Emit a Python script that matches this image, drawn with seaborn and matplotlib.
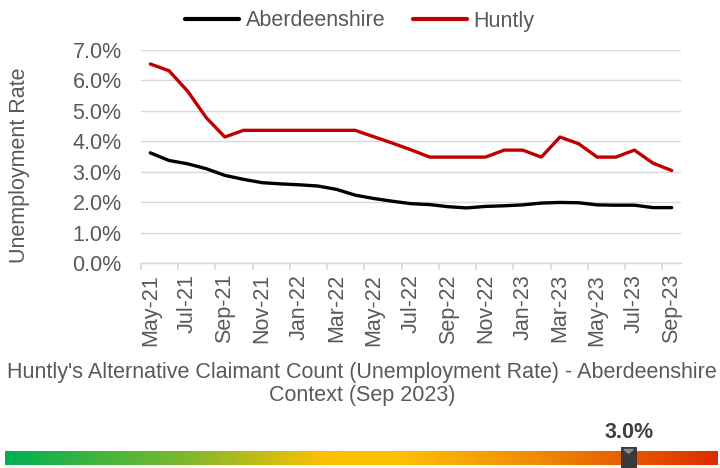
import numpy as np
import pandas as pd
import matplotlib
matplotlib.use("Agg")
import matplotlib.pyplot as plt
import seaborn as sns
from matplotlib.colors import LinearSegmentedColormap

# Data
months = ["May-21", "Jun-21", "Jul-21", "Aug-21", "Sep-21", "Oct-21", "Nov-21", "Dec-21",
          "Jan-22", "Feb-22", "Mar-22", "Apr-22", "May-22", "Jun-22", "Jul-22", "Aug-22",
          "Sep-22", "Oct-22", "Nov-22", "Dec-22", "Jan-23", "Feb-23", "Mar-23", "Apr-23",
          "May-23", "Jun-23", "Jul-23", "Aug-23", "Sep-23"]
aberdeenshire = [3.62, 3.37, 3.26, 3.10, 2.88, 2.75, 2.64, 2.60, 2.57, 2.53, 2.42, 2.23,
                 2.12, 2.03, 1.95, 1.92, 1.85, 1.81, 1.86, 1.88, 1.91, 1.97, 1.99, 1.98,
                 1.91, 1.90, 1.90, 1.82, 1.82]
huntly = [6.54, 6.32, 5.65, 4.78, 4.14, 4.36, 4.36, 4.36, 4.36, 4.36, 4.36, 4.36,
          4.15, 3.94, 3.72, 3.48, 3.48, 3.48, 3.48, 3.71, 3.71, 3.48, 4.14, 3.92,
          3.48, 3.48, 3.71, 3.28, 3.04]
series_names = ["Aberdeenshire", "Huntly"]
series_colors = ["#000000", "#C00000"]
gauge_value = 3.0
gauge_lo, gauge_hi = 0.0, 3.43
title = "Huntly's Alternative Claimant Count (Unemployment Rate) - Aberdeenshire\nContext (Sep 2023)"

df = pd.DataFrame({
    "idx": list(range(len(months))) * 2,
    "rate": aberdeenshire + huntly,
    "area": [series_names[0]] * len(months) + [series_names[1]] * len(months),
})

sns.set_theme(style="white")
plt.rcParams["font.family"] = ["Liberation Sans", "DejaVu Sans"]

W, H = 720, 468
FS = 15.5
GREY = "#595959"
fig = plt.figure(figsize=(7.2, 4.68), dpi=100)
ax = fig.add_axes([141 / W, 1 - 263 / H, 540 / W, 213 / H])

sns.lineplot(data=df, x="idx", y="rate", hue="area", palette=series_colors,
             linewidth=2.4, ax=ax, legend=False)

ax.set_xlim(-0.5, len(months) - 0.5)
ax.set_ylim(0, 7)
ax.set_yticks(np.arange(0, 8, 1))
ax.set_yticklabels([f"{v:.1f}%" for v in np.arange(0, 8, 1)], fontsize=FS, color=GREY)
ax.yaxis.grid(True, color="#D9D9D9", linewidth=1)
ax.set_axisbelow(True)
for s in ["left", "right", "top"]:
    ax.spines[s].set_visible(False)
ax.spines["bottom"].set_color("#D9D9D9")
ax.spines["bottom"].set_linewidth(1)

# tick marks at category boundaries, labels every second month
ax.set_xticks(np.arange(-0.5, len(months), 2))
ax.set_xticklabels([])
ax.tick_params(axis="x", which="major", length=5, color="#D9D9D9", direction="out", bottom=True)
ax.set_xticks(np.arange(0, len(months), 2), minor=True)
ax.set_xticklabels(months[::2], minor=True, rotation=90, fontsize=FS, color=GREY)
ax.tick_params(axis="x", which="minor", length=0, pad=8)
ax.tick_params(axis="y", length=0, pad=14)
ax.set_xlabel("")
ax.set_ylabel("")
fig.text(20 / W, 1 - 165 / H, "Unemployment Rate", rotation=90, ha="center", va="center",
         fontsize=FS, color=GREY)

# legend
handles = [plt.Line2D([], [], color=c, linewidth=3) for c in series_colors]
fig.legend(handles, series_names, loc="center", bbox_to_anchor=(360 / W, 1 - 21 / H),
           ncol=2, frameon=False, fontsize=FS, handlelength=2.5, handletextpad=0.3,
           columnspacing=1.3, labelcolor=GREY)

fig.text(362 / W, 1 - 384 / H, title, ha="center", va="center", fontsize=FS,
         color=GREY, linespacing=1.1)

# gradient gauge
gax = fig.add_axes([5 / W, 1 - 465 / H, 713 / W, 14 / H])
cmap = LinearSegmentedColormap.from_list(
    "gauge", [(0, "#00B050"), (0.25, "#7CB82F"), (0.45, "#FFC000"),
              (0.55, "#FFC000"), (0.75, "#F08A00"), (1, "#DC2C00")])
gax.imshow(np.linspace(0, 1, 512)[None, :], aspect="auto", cmap=cmap,
           extent=[gauge_lo, gauge_hi, 0, 1])
gax.set_xlim(gauge_lo, gauge_hi)
gax.set_ylim(0, 1)
gax.axis("off")

# marker on gauge
mx = 5 + 713 * (gauge_value - gauge_lo) / (gauge_hi - gauge_lo)
mk = fig.add_axes([(mx - 8) / W, 0, 16 / W, 21 / H])
mk.set_xlim(0, 1)
mk.set_ylim(0, 1)
mk.add_patch(plt.Rectangle((0, 0), 1, 1, color="#3A3A3A"))
mk.add_patch(plt.Polygon([(0.2, 0.88), (0.8, 0.88), (0.5, 0.7)], color="#8A8A8A"))
mk.axis("off")
fig.text(mx / W, 1 - 432 / H, f"{gauge_value:.1f}%", ha="center", va="center",
         fontsize=FS, fontweight="bold", color="#404040")

fig.savefig("out.png", dpi=100)
